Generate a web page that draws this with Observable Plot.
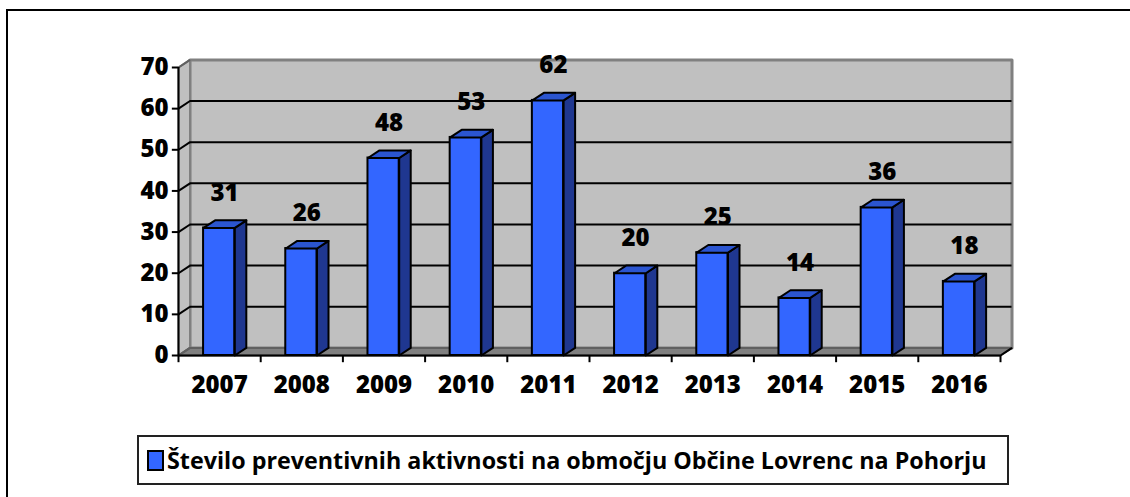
<!DOCTYPE html>
<html><head><meta charset="utf-8">
<script src="https://cdn.jsdelivr.net/npm/d3@7"></script>
<script src="https://cdn.jsdelivr.net/npm/@observablehq/plot@0.6"></script>
<style>
body{margin:0;background:#fff;width:1130px;height:497px;overflow:hidden;position:relative;font-family:"Open Sans",sans-serif;}
#chart{position:absolute;left:0;top:0;}
#frame{position:absolute;left:6px;top:9px;width:2000px;height:2000px;border-left:2px solid #000;border-top:2px solid #000;pointer-events:none;}
#legend{position:absolute;left:137px;top:435px;width:868px;height:46px;border:2px solid #222;display:flex;align-items:center;font-weight:700;font-size:23.3px;color:#000;white-space:nowrap;}
#legend .sw{flex:0 0 auto;display:inline-block;width:13px;height:17px;background:#3366ff;border:2px solid #000;margin-left:8px;margin-right:3px;}
</style></head><body>
<div id="chart"></div>
<div id="legend"><span class="sw"></span><span id="legtext"></span></div>
<div id="frame"></div>
<script>
const years = ["2007","2008","2009","2010","2011","2012","2013","2014","2015","2016"];
const values = [31, 26, 48, 53, 62, 20, 25, 14, 36, 18];
const yTicks = [0, 10, 20, 30, 40, 50, 60, 70];
const seriesName = "Število preventivnih aktivnosti na območju Občine Lovrenc na Pohorju";

document.getElementById("legtext").textContent = seriesName;

// 3D depth in data units
const DX = 0.14, DY = 1.85;
const B1 = 0.305, B2 = 0.685;
const N = years.length, YMAX = yTicks[yTicks.length - 1];

const bars = values.map((v, i) => ({i, v, year: years[i]}));
const poly = (id, pts) => pts.concat([pts[0]]).map(([x, y]) => ({id, x, y}));

const backWall = poly("bw", [[DX, DY], [N + DX, DY], [N + DX, YMAX + DY], [DX, YMAX + DY]]);
const leftWall = poly("lw", [[0, 0], [DX, DY], [DX, YMAX + DY], [0, YMAX]]);
const floor = poly("fl", [[0, 0], [N, 0], [N + DX, DY], [DX, DY]]);
const sides = bars.flatMap(b => poly("s" + b.i, [[b.i + B2, 0], [b.i + B2 + DX, DY], [b.i + B2 + DX, b.v + DY], [b.i + B2, b.v]]));
const tops = bars.flatMap(b => poly("t" + b.i, [[b.i + B1, b.v], [b.i + B2, b.v], [b.i + B2 + DX, b.v + DY], [b.i + B1 + DX, b.v + DY]]));
const inner = yTicks.filter(v => v > 0 && v < YMAX);
const edge = yTicks.filter(v => v === 0 || v === YMAX);

const font = {fontFamily: "'Open Sans', sans-serif", fontWeight: 800, fontSize: 24, fill: "#000"};

const chart = Plot.plot({
  width: 1130, height: 420,
  marginLeft: 178, marginRight: 130, marginTop: 67, marginBottom: 65,
  style: {background: "transparent", overflow: "visible"},
  x: {domain: [0, N], axis: null},
  y: {domain: [0, YMAX], axis: null},
  marks: [
    Plot.line(backWall, {x: "x", y: "y", z: "id", fill: "#c0c0c0", stroke: "#808080", strokeWidth: 3}),
    Plot.line(leftWall, {x: "x", y: "y", z: "id", fill: "#c0c0c0", stroke: "#808080", strokeWidth: 2}),
    Plot.line(floor, {x: "x", y: "y", z: "id", fill: "#808080", stroke: "#606060", strokeWidth: 2}),
    Plot.ruleY(inner, {x1: DX, x2: N + DX, y: d => d + DY, stroke: "#000", strokeWidth: 2}),
    Plot.link(inner, {x1: 0, y1: d => d, x2: DX, y2: d => d + DY, stroke: "#000", strokeWidth: 2}),
    Plot.link(edge, {x1: 0, y1: d => d, x2: DX, y2: d => d + DY, stroke: "#606060", strokeWidth: 2}),
    Plot.link([N], {x1: d => d, y1: 0, x2: d => d + DX, y2: DY, stroke: "#000", strokeWidth: 2}),
    Plot.ruleY([0], {x1: 0, x2: N, stroke: "#000", strokeWidth: 2}),
    Plot.ruleX([0], {y1: 0, y2: YMAX, stroke: "#000", strokeWidth: 2}),
    Plot.ruleY(yTicks, {x1: -0.075, x2: 0, stroke: "#000", strokeWidth: 2}),
    Plot.ruleX(d3.range(N + 1), {y1: 0, y2: -1.75, stroke: "#000", strokeWidth: 2}),
    Plot.rect(bars, {x1: d => d.i + B1, x2: d => d.i + B2, y1: 0, y2: "v", fill: "#3366ff", stroke: "#000", strokeWidth: 2}),
    Plot.line(sides, {x: "x", y: "y", z: "id", fill: "#1f3790", stroke: "#000", strokeWidth: 2, strokeLinejoin: "round"}),
    Plot.line(tops, {x: "x", y: "y", z: "id", fill: "#2b55d0", stroke: "#000", strokeWidth: 2, strokeLinejoin: "round"}),
    Plot.text(yTicks, {x: 0, y: d => d, dx: -10, textAnchor: "end", text: d => String(d), ...font}),
    Plot.text(bars, {x: d => d.i + 0.5, y: 0, dy: 30, text: "year", ...font}),
    Plot.text(bars, {x: d => d.i + 0.5, y: "v", dx: 5, dy: -35, text: d => String(d.v), ...font})
  ]
});
document.getElementById("chart").appendChild(chart);
</script>
</body></html>
